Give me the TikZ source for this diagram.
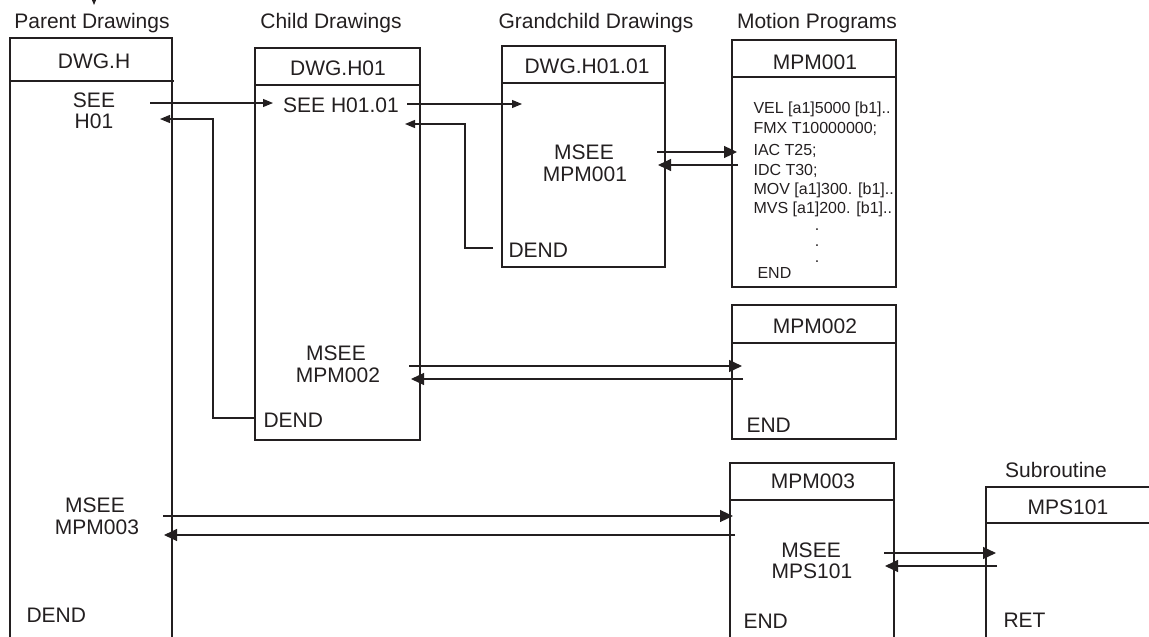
\documentclass[tikz,border=0pt]{standalone}
\usepackage{fontspec}
\setmainfont{Liberation Sans}
\usetikzlibrary{arrows.meta}
\definecolor{ink}{RGB}{35,31,32}
\begin{document}
\begin{tikzpicture}[x=1pt,y=-1pt,
  line width=1.1pt, draw=ink,
  lbl/.style={inner sep=0pt, anchor=base, font=\fontsize{21}{25}\selectfont, text=ink},
  lblw/.style={lbl, anchor=base west},
  sml/.style={inner sep=0pt, anchor=base west, font=\fontsize{16}{19}\selectfont, text=ink},
  boxline/.style={draw=ink, line width=1.1pt},
  smallarr/.style={draw=ink, -{Triangle[length=10pt,width=8pt]}},
  bigarr/.style={draw=ink, -{Triangle[length=13pt,width=12pt]}},
  plainline/.style={draw=ink},
]
\useasboundingbox (0,0) rectangle (1149,637);

% ---------- boxes ----------
% Parent
\draw[boxline] (10,38) rectangle (172,660);
\draw[boxline] (10,81) -- (174,81);
% Child
\draw[boxline] (255,48) rectangle (420,440);
\draw[boxline] (255,85) -- (420,85);
% Grandchild
\draw[boxline] (502,46) rectangle (665,267);
\draw[boxline] (502,83) -- (665,83);
% MPM001
\draw[boxline] (732,40) rectangle (896,287);
\draw[boxline] (732,77) -- (896,77);
% MPM002
\draw[boxline] (732,305) rectangle (896,439);
\draw[boxline] (732,343) -- (896,343);
% MPM003
\draw[boxline] (730,463) rectangle (894,660);
\draw[boxline] (730,500) -- (894,500);
% MPS101
\draw[boxline] (986,487) rectangle (1170,660);
\draw[boxline] (986,523) -- (1170,523);

% ---------- titles ----------
\node[lbl] (tparent) at (92,28) {Parent Drawings};
\node[lbl] (tchild) at (331,28) {Child Drawings};
\node[lbl] (tgrand) at (596,28) {Grandchild Drawings};
\node[lbl] (tmotion) at (817,28) {Motion Programs};
\node[lbl] (tsub) at (1056,477) {Subroutine};

% ---------- headers ----------
\node[lbl] (hparent) at (94,68) {DWG.H};
\node[lbl] (hchild) at (338,75) {DWG.H01};
\node[lbl] (hgrand) at (587,73) {DWG.H01.01};
\node[lbl] (hmpm1) at (815,69) {MPM001};
\node[lbl] (hmpm2) at (815,333) {MPM002};
\node[lbl] (hmpm3) at (813,488) {MPM003};
\node[lbl] (hmps) at (1068,514) {MPS101};

% ---------- parent body ----------
\node[lbl] (psee) at (94,107) {SEE};
\node[lbl] (ph01) at (94,128) {H01};
\node[lbl] (pmsee) at (95,512) {MSEE};
\node[lbl] (pmpm3) at (97,534) {MPM003};
\node[lblw] (pdend) at (26,622) {DEND};

% ---------- child body ----------
\node[lbl] (csee) at (341,112) {SEE H01.01};
\node[lbl] (cmsee) at (336,360) {MSEE};
\node[lbl] (cmpm2) at (338,382) {MPM002};
\node[lblw] (cdend) at (263,427) {DEND};

% ---------- grandchild body ----------
\node[lbl] (gmsee) at (584,159) {MSEE};
\node[lbl] (gmpm1) at (585,181) {MPM001};
\node[lblw] (gdend) at (508,257) {DEND};

% ---------- MPM001 body ----------
\node[sml] (l1) at (753,113) {VEL [a1]5000 [b1]..};
\node[sml] (l2) at (753,133) {FMX T10000000;};
\node[sml] (l3) at (753,155) {IAC T25;};
\node[sml] (l4) at (753,175) {IDC T30;};
\node[sml] (l5) at (753,194) {MOV [a1]300. [b1]..};
\node[sml] (l6) at (753,213) {MVS [a1]200. [b1]..};
\node[sml, anchor=base] (d1) at (817,230) {.};
\node[sml, anchor=base] (d2) at (817,246) {.};
\node[sml, anchor=base] (d3) at (817,262) {.};
\node[sml] (lend) at (757,278) {END};

% ---------- MPM002 / MPM003 / MPS101 bodies ----------
\node[lblw] (end2) at (746,432) {END};
\node[lbl] (mmsee) at (811,557) {MSEE};
\node[lbl] (mmps) at (812,578) {MPS101};
\node[lblw] (end3) at (743,628) {END};
\node[lblw] (ret) at (1003,627) {RET};

% ---------- connector end points ----------
\coordinate (topa) at (94,-8);
\coordinate (topb) at (94,5);
\coordinate (a1s) at (150,103);
\coordinate (a1e) at (273,103);
\coordinate (a2s) at (407,104);
\coordinate (a2e) at (522,104);
\coordinate (r1s) at (493,248);
\coordinate (r1a) at (465,248);
\coordinate (r1b) at (465,124);
\coordinate (r1e) at (405,124);
\coordinate (r2s) at (255,418);
\coordinate (r2a) at (213,418);
\coordinate (r2b) at (213,119);
\coordinate (r2e) at (160,119);
\coordinate (m1s) at (657,152);
\coordinate (m1e) at (737,152);
\coordinate (m1rs) at (738,165);
\coordinate (m1re) at (658,165);
\coordinate (m2s) at (409,366);
\coordinate (m2e) at (742,366);
\coordinate (m2rs) at (743,379);
\coordinate (m2re) at (411,379);
\coordinate (m3s) at (163,516);
\coordinate (m3e) at (733,516);
\coordinate (m3rs) at (735,535);
\coordinate (m3re) at (164,535);
\coordinate (m4s) at (884,553);
\coordinate (m4e) at (996,553);
\coordinate (m4rs) at (997,566);
\coordinate (m4re) at (885,566);

% ---------- connectors ----------
\draw[smallarr] (topa) -- (topb);
\draw[smallarr] (a1s) -- (a1e);
\draw[smallarr] (a2s) -- (a2e);
\draw[smallarr] (r1s) -- (r1a) -- (r1b) -- (r1e);
\draw[smallarr] (r2s) -- (r2a) -- (r2b) -- (r2e);
\draw[bigarr] (m1s) -- (m1e);
\draw[bigarr] (m1rs) -- (m1re);
\draw[bigarr] (m2s) -- (m2e);
\draw[bigarr] (m2rs) -- (m2re);
\draw[bigarr] (m3s) -- (m3e);
\draw[bigarr] (m3rs) -- (m3re);
\draw[bigarr] (m4s) -- (m4e);
\draw[bigarr] (m4rs) -- (m4re);
\end{tikzpicture}
\end{document}
